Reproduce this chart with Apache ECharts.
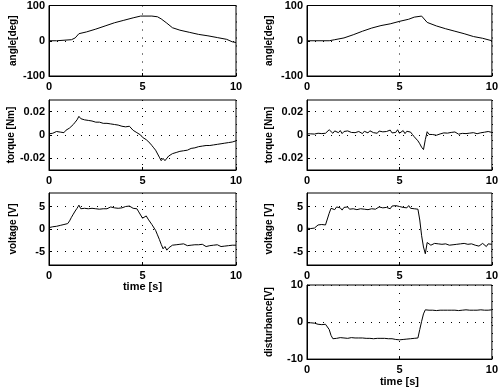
<!DOCTYPE html>
<html><head><meta charset="utf-8">
<script src="https://cdn.jsdelivr.net/npm/echarts@6/dist/echarts.min.js"></script>
<style>html,body{margin:0;padding:0;background:#fff}#c{width:501px;height:388px}</style>
</head><body><div id="c"></div>
<script>
// ---------- data ----------
const time = [0.0,0.1,0.2,0.3,0.4,0.5,0.6,0.7,0.8,0.9,1.0,1.1,1.2,1.3,1.4,1.5,1.6,1.7,1.8,1.9,2.0,2.1,2.2,2.3,2.4,2.5,2.6,2.7,2.8,2.9,3.0,3.1,3.2,3.3,3.4,3.5,3.6,3.7,3.8,3.9,4.0,4.1,4.2,4.3,4.4,4.5,4.6,4.7,4.8,4.9,5.0,5.1,5.2,5.3,5.4,5.5,5.6,5.7,5.8,5.9,6.0,6.1,6.2,6.3,6.4,6.5,6.6,6.7,6.8,6.9,7.0,7.1,7.2,7.3,7.4,7.5,7.6,7.7,7.8,7.9,8.0,8.1,8.2,8.3,8.4,8.5,8.6,8.7,8.8,8.9,9.0,9.1,9.2,9.3,9.4,9.5,9.6,9.7,9.8,9.9,10.0];

const angleLeftT = [0,0.4,0.5,1.2,1.4,1.6,2.0,2.5,3.0,3.5,4.0,4.5,4.9,5.5,5.8,6.0,6.3,6.6,7.0,7.5,8.0,8.5,9.0,9.5,9.8,10];
const angleLeftV = [0,0,3,3,8,20,25,33,42,51,58,65,70,70,68,62,50,37,30,24,18,14,9,4,-3,-5];

const angleRightT = [0,1.2,1.5,2.0,2.5,3.0,3.5,4.0,4.5,5.0,5.5,5.8,6.2,6.5,7.0,7.5,8.0,8.5,9.0,9.5,10];
const angleRightV = [0,0,3,8,17,27,36,43,48,55,61,67,70,52,42,34,27,20,12,7,0];

const torqueLeft = [0.001,0.002,0.0015,0.002,0.003,0.002,0.0025,0.003,0.002,0.004,0.003,
0.006,0.005,0.009,0.011,0.013,0.016,0.014,0.015,0.013,0.013,
0.0125,0.013,0.012,0.0125,0.011,0.012,0.011,0.0115,0.010,0.011,
0.010,0.0105,0.0095,0.010,0.009,0.0095,0.0085,0.009,0.0075,0.0085,
0.007,0.008,0.0075,0.0085,0.004,0.005,0.002,0.003,0.000,-0.002,
-0.001,-0.004,-0.005,-0.007,-0.009,-0.011,-0.013,-0.014,-0.019,-0.022,
-0.020,-0.022,-0.021,-0.018,-0.017,-0.016,-0.0165,-0.015,-0.0145,-0.014,
-0.013,-0.0135,-0.0125,-0.013,-0.012,-0.0115,-0.012,-0.011,-0.0105,-0.010,
-0.0105,-0.0095,-0.010,-0.009,-0.0085,-0.009,-0.008,-0.0085,-0.0075,-0.008,
-0.007,-0.0075,-0.0065,-0.007,-0.006,-0.0065,-0.0055,-0.006,-0.005,-0.005];

const torqueRight = [0.001,0.0008,0.001,0.0012,0.0008,0.001,0.0015,0.001,0.0012,0.002,0.0015,
0.002,0.0045,0.004,0.0015,0.0035,0.003,0.002,0.0038,0.0012,0.003,
0.0025,0.0035,0.0018,0.0022,0.0038,0.002,0.0015,0.003,0.0028,0.0012,
0.0032,0.0024,0.0018,0.0036,0.0026,0.002,0.0028,0.0015,0.0034,0.0022,
0.0027,0.0012,0.003,0.0025,0.0042,0.0018,0.0035,0.0022,0.0045,0.0015,
0.0028,0.0038,0.0012,0.0032,0.0018,0.0025,0.0005,-0.0015,-0.003,-0.005,
-0.0075,-0.0105,-0.0125,-0.004,0.0028,0.0005,-0.0008,0.0004,0.0012,-0.0002,
0.0014,0.0009,0.0003,0.0018,0.0006,0.0016,0.0008,0.0022,0.0011,0.0026,
0.0013,0.0007,0.0021,0.0014,0.0031,0.0012,0.0027,0.0016,0.0033,0.002,
0.0036,0.0011,0.0026,0.0019,0.0032,0.0024,0.0012,0.003,0.0017,0.0022];

const voltageLeft = [0.3,0.0,0.5,0.2,0.6,0.3,0.8,0.5,1.0,0.8,1.2,
1.8,2.6,3.3,4.0,4.6,5.3,4.5,4.4,4.6,4.3,
4.5,4.4,4.6,4.4,4.5,4.7,4.4,4.6,4.5,4.8,
4.5,4.6,4.9,4.5,4.7,4.9,4.6,5.0,4.7,4.9,
5.0,4.6,5.1,4.7,4.6,4.3,4.5,3.8,3.5,2.4,
2.6,2.9,2.2,1.8,1.0,0.6,-0.3,-1.3,-2.3,-3.4,
-4.4,-3.9,-4.7,-4.2,-3.8,-3.6,-3.9,-3.5,-3.7,-3.4,
-3.6,-3.3,-3.5,-3.7,-3.4,-3.6,-3.3,-3.5,-3.8,-3.5,
-3.7,-3.4,-3.6,-3.9,-3.5,-3.7,-4.0,-3.6,-3.8,-3.5,
-3.7,-3.9,-3.6,-3.8,-3.5,-3.7,-3.4,-3.6,-3.5,-3.6];

const voltageRight = [0.2,0.3,0.1,0.3,0.2,0.4,0.9,0.8,1.0,0.9,0.9,
1.0,3.5,4.6,4.8,4.3,4.9,4.5,4.7,4.2,4.8,
4.5,4.9,4.4,4.7,4.5,4.8,4.3,4.6,4.5,4.8,
4.4,4.6,4.3,4.7,4.5,4.8,4.4,4.6,4.9,4.5,
4.7,4.4,4.8,4.6,4.5,5.1,4.7,5.2,4.9,5.0,
5.3,4.8,5.1,4.7,5.2,4.6,4.9,4.5,4.8,4.4,
2.0,-1.5,-4.0,-5.5,-3.0,-3.3,-3.6,-3.4,-3.2,-3.5,
-3.3,-3.6,-3.4,-3.7,-3.3,-3.5,-3.6,-3.3,-3.5,-3.7,
-3.4,-3.6,-3.3,-3.5,-3.2,-3.6,-3.4,-3.7,-3.3,-3.5,
-3.6,-3.3,-3.8,-3.5,-3.2,-3.4,-3.9,-3.3,-3.5,-3.4];

const disturbanceRight = [-0.2,-0.3,-0.2,-0.3,-0.3,-0.3,-0.6,-0.6,-0.7,-0.6,-0.6,
-0.7,-2.0,-3.6,-4.5,-4.2,-4.4,-4.3,-4.2,-4.4,-4.3,
-4.2,-4.4,-4.3,-4.2,-4.4,-4.3,-4.4,-4.3,-4.4,-4.3,
-4.4,-4.4,-4.3,-4.4,-4.4,-4.5,-4.4,-4.4,-4.5,-4.4,
-4.5,-4.4,-4.5,-4.5,-4.6,-4.5,-4.6,-4.7,-4.6,-4.8,
-4.6,-4.7,-4.5,-4.6,-4.5,-4.5,-4.4,-4.4,-4.3,-4.3,
-2.0,0.2,2.2,3.3,3.1,3.2,3.1,3.2,3.2,3.1,
3.2,3.2,3.1,3.2,3.2,3.2,3.1,3.2,3.2,3.2,
3.2,3.1,3.2,3.2,3.2,3.3,3.2,3.2,3.2,3.2,
3.3,3.2,3.2,3.3,3.2,3.2,3.3,3.2,3.3,3.3];

const xTicks = [0, 5, 10];
const angleTicks = [-100, 0, 100];
const torqueTicks = [-0.02, 0, 0.02];
const voltageTicks = [-5, 0, 5];
const disturbanceTicks = [-10, 0, 10];

// ---------- build ----------
function zip(t, v) { return t.map((x, i) => [x, v[i]]); }
const FONT = 'Liberation Sans';
const LX = 49, LW = 187, RX = 307, RW = 186;
const rows = [{top:5,h:71},{top:100,h:70},{top:193,h:72},{top:285,h:75}];

const panels = [
  {col:0,row:0,name:'angle[deg]',min:-100,max:100,ticks:angleTicks,data:zip(angleLeftT,angleLeftV)},
  {col:0,row:1,name:'torque [Nm]',min:-0.03,max:0.03,ticks:torqueTicks,data:zip(time,torqueLeft)},
  {col:0,row:2,name:'voltage [V]',min:-8,max:8,ticks:voltageTicks,data:zip(time,voltageLeft),xname:'time [s]'},
  {col:1,row:0,name:'angle[deg]',min:-100,max:100,ticks:angleTicks,data:zip(angleRightT,angleRightV)},
  {col:1,row:1,name:'torque [Nm]',min:-0.03,max:0.03,ticks:torqueTicks,data:zip(time,torqueRight)},
  {col:1,row:2,name:'voltage [V]',min:-8,max:8,ticks:voltageTicks,data:zip(time,voltageRight)},
  {col:1,row:3,name:'disturbance[V]',min:-10,max:10,ticks:disturbanceTicks,data:zip(time,disturbanceRight),xname:'time [s]'}
];

const lab = {color:'#000',fontFamily:FONT,fontWeight:'bold',fontSize:11};
const nameLab = {color:'#000',fontFamily:FONT,fontWeight:'bold',fontSize:10};
const grid=[], xAxis=[], yAxis=[], series=[];
panels.forEach((p,i)=>{
  const r = rows[p.row];
  grid.push({left: p.col? RX:LX, width: p.col? RW:LW, top:r.top, height:r.h,
    show:true, borderColor:'#000', borderWidth:1, backgroundColor:'transparent'});
  xAxis.push({type:'value', gridIndex:i, min:0, max:10,
    axisLine:{show:true,onZero:false,lineStyle:{color:'#000',width:1}},
    axisTick:{show:true,inside:true,length:3,customValues:xTicks,lineStyle:{color:'#000'}},
    axisLabel:Object.assign({margin:5,customValues:xTicks},lab),
    splitLine:{show:true,lineStyle:{color:'#000',width:1,type:[1,7]}},
    name:p.xname||'', nameLocation:'middle', nameGap:16,
    nameTextStyle:Object.assign({},lab)});
  yAxis.push({type:'value', gridIndex:i, min:p.min, max:p.max,
    axisLine:{show:true,onZero:false,lineStyle:{color:'#000',width:1}},
    axisTick:{show:true,inside:true,length:3,customValues:p.ticks,lineStyle:{color:'#000'}},
    axisLabel:Object.assign({margin:4,customValues:p.ticks},lab),
    splitLine:{show:true,lineStyle:{color:'#000',width:1,type:[1,7]}},
    name:p.name, nameLocation:'middle', nameGap: p.col?33:31,
    nameTextStyle:Object.assign({},nameLab)});
  series.push({type:'line', xAxisIndex:i, yAxisIndex:i, data:p.data, showSymbol:false,
    lineStyle:{color:'#000',width:1}, animation:false, silent:true});
});

const chart = echarts.init(document.getElementById('c'), null, {renderer:'canvas'});
chart.setOption({animation:false, backgroundColor:'#fff', grid, xAxis, yAxis, series});
</script></body></html>
